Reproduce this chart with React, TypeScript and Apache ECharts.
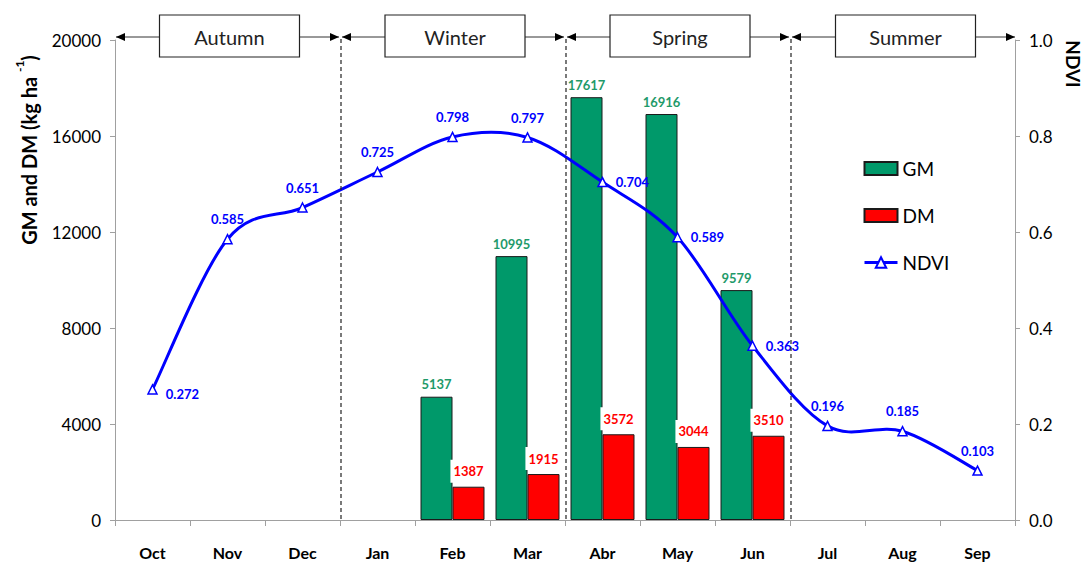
import React, { useEffect, useRef } from "react";
import * as echarts from "echarts";

const months = ["Oct", "Nov", "Dec", "Jan", "Feb", "Mar", "Abr", "May", "Jun", "Jul", "Aug", "Sep"];
const gmValues: (number | null)[] = [null, null, null, null, 5137, 10995, 17617, 16916, 9579, null, null, null];
const dmValues: (number | null)[] = [null, null, null, null, 1387, 1915, 3572, 3044, 3510, null, null, null];
const ndviValues = [0.272, 0.585, 0.651, 0.725, 0.798, 0.797, 0.704, 0.589, 0.363, 0.196, 0.185, 0.103];
const ndviLabelPos = ["right", "top", "top", "top", "top", "top", "right", "right", "right", "top", "top", "top"];
const seasons = [
  { name: "Autumn", from: 0, to: 2 },
  { name: "Winter", from: 3, to: 5 },
  { name: "Spring", from: 6, to: 8 },
  { name: "Summer", from: 9, to: 11 },
];
const leftTicks = { min: 0, max: 20000, interval: 4000 };
const rightTicks = { min: 0, max: 1, interval: 0.2 };

const FONT = "Lato";
const GREEN = "#00996a";
const RED = "#ff0000";
const BLUE = "#0000ff";

export default function App() {
  const ref = useRef<HTMLDivElement>(null);
  useEffect(() => {
    if (!ref.current) return;
    const chart = echarts.init(ref.current, null, { renderer: "svg" });
    const n = ndviValues.length;
    chart.setOption({
      animation: false,
      textStyle: { fontFamily: FONT },
      grid: { left: 115, right: 72, top: 40, bottom: 43 },
      legend: {
        orient: "vertical",
        left: 858,
        top: 154,
        itemWidth: 33,
        itemHeight: 13,
        itemGap: 28,
        textStyle: { fontSize: 19, color: "#000", fontFamily: FONT },
        data: [
          { name: "GM", icon: "rect" },
          { name: "DM", icon: "rect" },
          { name: "NDVI", lineStyle: { color: BLUE, width: 3, opacity: 1 } },
        ],
      },
      xAxis: {
        type: "category",
        data: months,
        boundaryGap: true,
        axisLine: { lineStyle: { color: "#a0a0a0" } },
        axisTick: { show: true, length: 6, lineStyle: { color: "#a0a0a0" } },
        axisLabel: { fontSize: 16, fontWeight: "bold", color: "#000", margin: 24, fontFamily: FONT },
        splitLine: { show: false },
      },
      yAxis: [
        {
          type: "value",
          ...leftTicks,
          axisLine: { show: true, lineStyle: { color: "#a0a0a0" } },
          axisTick: { show: true, length: 5, lineStyle: { color: "#a0a0a0" } },
          axisLabel: {
            fontSize: 17,
            color: "#000",
            margin: 14,
            fontFamily: FONT,
            formatter: (v: number) => String(v),
          },
          splitLine: { show: false },
        },
        {
          type: "value",
          ...rightTicks,
          position: "right",
          axisLine: { show: true, lineStyle: { color: "#a0a0a0" } },
          axisTick: { show: true, length: 5, lineStyle: { color: "#a0a0a0" } },
          axisLabel: {
            fontSize: 17,
            color: "#000",
            margin: 14,
            fontFamily: FONT,
            formatter: (v: number) => v.toFixed(1),
          },
          splitLine: { show: false },
        },
      ],
      series: [
        {
          name: "GM",
          type: "bar",
          data: gmValues,
          barWidth: 32,
          barGap: "0%",
          itemStyle: { color: GREEN, borderColor: "#1a1a1a", borderWidth: 1 },
          label: {
            show: true,
            position: "top",
            distance: 4,
            color: "#1f9a6a",
            fontWeight: "bold",
            fontSize: 13,
            fontFamily: FONT,
            backgroundColor: "#fff",
            padding: [2, 2],
          },
          z: 2,
        },
        {
          name: "DM",
          type: "bar",
          data: dmValues,
          barWidth: 32,
          itemStyle: { color: RED, borderColor: "#1a1a1a", borderWidth: 1 },
          label: {
            show: true,
            position: "top",
            distance: 4,
            color: RED,
            fontWeight: "bold",
            fontSize: 13,
            fontFamily: FONT,
            backgroundColor: "#fff",
            padding: [5, 3],
          },
          z: 3,
        },
        {
          name: "NDVI-curve",
          type: "custom",
          yAxisIndex: 1,
          silent: true,
          z: 4,
          data: ndviValues.map((v, i) => [i, v]),
          renderItem: (params: any, api: any) => {
            const i = params.dataIndex;
            if (i >= n - 1) return null;
            const P = (k: number) => {
              const kk = Math.max(0, Math.min(n - 1, k));
              return api.coord([kk, ndviValues[kk]]);
            };
            const p0 = P(i - 1);
            const p1 = P(i);
            const p2 = P(i + 1);
            const p3 = P(i + 2);
            const t = 6;
            return {
              type: "bezierCurve",
              shape: {
                x1: p1[0],
                y1: p1[1],
                x2: p2[0],
                y2: p2[1],
                cpx1: p1[0] + (p2[0] - p0[0]) / t,
                cpy1: p1[1] + (p2[1] - p0[1]) / t,
                cpx2: p2[0] - (p3[0] - p1[0]) / t,
                cpy2: p2[1] - (p3[1] - p1[1]) / t,
              },
              style: { stroke: BLUE, lineWidth: 3, fill: "none" },
            };
          },
        },
        {
          name: "NDVI",
          type: "line",
          yAxisIndex: 1,
          symbol: "triangle",
          symbolSize: 9,
          lineStyle: { color: BLUE, width: 3, opacity: 0 },
          itemStyle: { color: "#fff", borderColor: BLUE, borderWidth: 1.5 },
          data: ndviValues.map((v, i) => ({
            value: v,
            label: {
              position: ndviLabelPos[i],
              offset: i === 0 ? [0, 5] : [0, 0],
            },
          })),
          label: {
            show: true,
            distance: 8,
            color: BLUE,
            fontWeight: "bold",
            fontSize: 13,
            fontFamily: FONT,
            formatter: (p: any) => Number(p.value).toFixed(3),
          },
          z: 5,
        },
      ],
    });

    const xs = months.map((_, i) => chart.convertToPixel({ xAxisIndex: 0 }, i) as number);
    const step = xs[1] - xs[0];
    const yTop = chart.convertToPixel({ yAxisIndex: 0 }, leftTicks.max) as number;
    const yBottom = chart.convertToPixel({ yAxisIndex: 0 }, leftTicks.min) as number;
    const arrowY = yTop - 3;
    const graphics: any[] = [];
    const arrowHead = (tipX: number, dir: number) => ({
      type: "polygon",
      shape: {
        points: [
          [tipX, arrowY],
          [tipX - dir * 9, arrowY - 4],
          [tipX - dir * 9, arrowY + 4],
        ],
      },
      style: { fill: "#000" },
      z: 10,
    });
    seasons.forEach((s, si) => {
      const x0 = xs[s.from] - step / 2 + (si === 0 ? 1 : 2);
      const x1 = xs[s.to] + step / 2 - (si === seasons.length - 1 ? 0 : 1);
      const mid = (x0 + x1) / 2 + 2;
      graphics.push({
        type: "line",
        shape: { x1: x0, y1: arrowY, x2: x1, y2: arrowY },
        style: { stroke: "#333", lineWidth: 1 },
        z: 9,
      });
      graphics.push(arrowHead(x0, -1));
      graphics.push(arrowHead(x1, 1));
      graphics.push({
        type: "rect",
        shape: { x: mid - 70, y: arrowY - 22, width: 140, height: 42 },
        style: { fill: "#fff", stroke: "#222", lineWidth: 1.2 },
        z: 11,
      });
      graphics.push({
        type: "text",
        x: mid,
        y: arrowY,
        style: {
          text: s.name,
          fontSize: 20,
          fontFamily: FONT,
          fill: "#222",
          align: "center",
          verticalAlign: "middle",
        },
        z: 12,
      });
      if (si > 0) {
        const bx = xs[s.from] - step / 2 + 1;
        graphics.push({
          type: "line",
          shape: { x1: bx, y1: arrowY + 2, x2: bx, y2: yBottom },
          style: { stroke: "#222", lineWidth: 1.2, lineDash: [4, 3] },
          z: 8,
        });
      }
    });
    graphics.push({
      type: "text",
      x: 26,
      y: 150,
      rotation: Math.PI / 2,
      style: {
        text: "{a|GM and DM (kg ha }{s|-1}{a|)}",
        align: "center",
        verticalAlign: "middle",
        rich: {
          a: { fontSize: 20, fontWeight: "bold", fontFamily: FONT, fill: "#000", lineHeight: 26, verticalAlign: "bottom" },
          s: { fontSize: 12, fontWeight: "bold", fontFamily: FONT, fill: "#000", lineHeight: 26, verticalAlign: "top" },
        },
      },
      z: 12,
    });
    graphics.push({
      type: "text",
      x: 1073,
      y: 64,
      rotation: -Math.PI / 2,
      style: {
        text: "NDVI",
        fontSize: 19,
        fontWeight: "bold",
        fontFamily: FONT,
        fill: "#000",
        align: "center",
        verticalAlign: "middle",
      },
      z: 12,
    });
    chart.setOption({ graphic: graphics });

    return () => chart.dispose();
  }, []);
  return <div ref={ref} style={{ width: 1087, height: 563, position: "absolute", left: 0, top: 0 }} />;
}
